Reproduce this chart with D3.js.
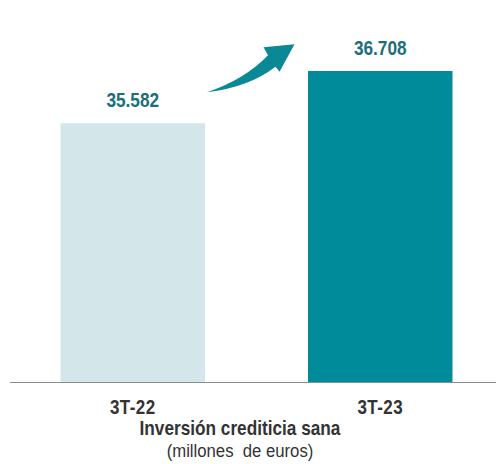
<!DOCTYPE html>
<html>
<head>
<meta charset="utf-8">
<script src="https://cdn.jsdelivr.net/npm/d3@7"></script>
<style>
  html, body { margin: 0; padding: 0; background: #fff; }
  text { font-family: "Liberation Sans Narrow", "Arial Narrow", "Liberation Sans", sans-serif; }
</style>
</head>
<body>
<div id="chart"></div>
<script>
const periods = ["3T-22", "3T-23"];
const values = [35582, 36708];
const labels = ["35.582", "36.708"];
const barColors = ["#d3e7eb", "#008b9a"];

const width = 496, height = 464;
const baseY = 382;
const narrow = 0.82; // squeeze Liberation Sans to look like Arial Narrow

const svg = d3.select("#chart")
    .append("svg")
    .attr("width", width)
    .attr("height", height);

let x = d3.scaleBand()
    .domain(periods)
    .range([60.5, 452.5])
    .paddingInner(0.416)
    .paddingOuter(0);

// axis does not start at zero in the original
let y = d3.scaleLinear().domain([30000, 36708]).range([baseY, 71]);

svg.selectAll("rect.bar")
    .data(values)
    .enter()
    .append("rect")
    .attr("class", "bar")
    .attr("x", (d, i) => x(periods[i]))
    .attr("y", d => y(d))
    .attr("width", x.bandwidth())
    .attr("height", d => baseY - y(d))
    .attr("fill", (d, i) => barColors[i]);

// value labels
svg.selectAll("text.val")
    .data(values)
    .enter()
    .append("text")
    .attr("class", "val")
    .attr("transform", (d, i) => "translate(" + (x(periods[i]) + x.bandwidth() / 2) + "," + (y(d) - 16) + ") scale(" + narrow + ",1)")
    .attr("text-anchor", "middle")
    .attr("font-size", 21)
    .attr("font-weight", "bold")
    .attr("fill", "#1a6f7b")
    .text((d, i) => labels[i]);

// baseline
svg.append("line")
    .attr("x1", 10).attr("x2", width)
    .attr("y1", baseY + 0.5).attr("y2", baseY + 0.5)
    .attr("stroke", "#8c8c8c")
    .attr("stroke-width", 1);

// x-axis labels
let xAxis = svg.append("g")
    .attr("transform", "translate(0," + baseY + ")")
    .call(d3.axisBottom(x).tickSize(0).tickPadding(18));
xAxis.select(".domain").remove();
xAxis.selectAll("text")
    .attr("font-size", 20)
    .attr("font-weight", "bold")
    .attr("fill", "#333")
    .attr("letter-spacing", 0.5)
    .attr("transform", "scale(0.85,1)")
    .style("font-family", "'Liberation Sans Narrow', 'Arial Narrow', 'Liberation Sans', sans-serif");

// title
svg.append("text")
    .attr("transform", "translate(240,435) scale(" + narrow + ",1)")
    .attr("text-anchor", "middle")
    .attr("font-size", 21)
    .attr("font-weight", "bold")
    .attr("fill", "#333")
    .text("Inversión crediticia sana");

svg.append("text")
    .attr("transform", "translate(240,456.5) scale(0.88,1)")
    .attr("text-anchor", "middle")
    .attr("font-size", 19)
    .attr("fill", "#333")
    .attr("xml:space", "preserve")
    .style("white-space", "pre")
    .text("(millones  de euros)");

// growth arrow between the two bars
let ax = x(periods[0]) + x.bandwidth(), ay = y(values[0]);
let arrow = d3.path();
arrow.moveTo(ax + 2, ay - 31);
arrow.quadraticCurveTo(ax + 40, ay - 44, ax + 63, ay - 68);
arrow.lineTo(ax + 58.5, ay - 76);
arrow.lineTo(ax + 89.5, ay - 79);
arrow.lineTo(ax + 74.5, ay - 51.5);
arrow.lineTo(ax + 70.5, ay - 56.5);
arrow.quadraticCurveTo(ax + 44, ay - 36, ax + 2, ay - 31);
arrow.closePath();
svg.append("path")
    .attr("d", arrow.toString())
    .attr("fill", "#0a8896");
</script>
</body>
</html>
